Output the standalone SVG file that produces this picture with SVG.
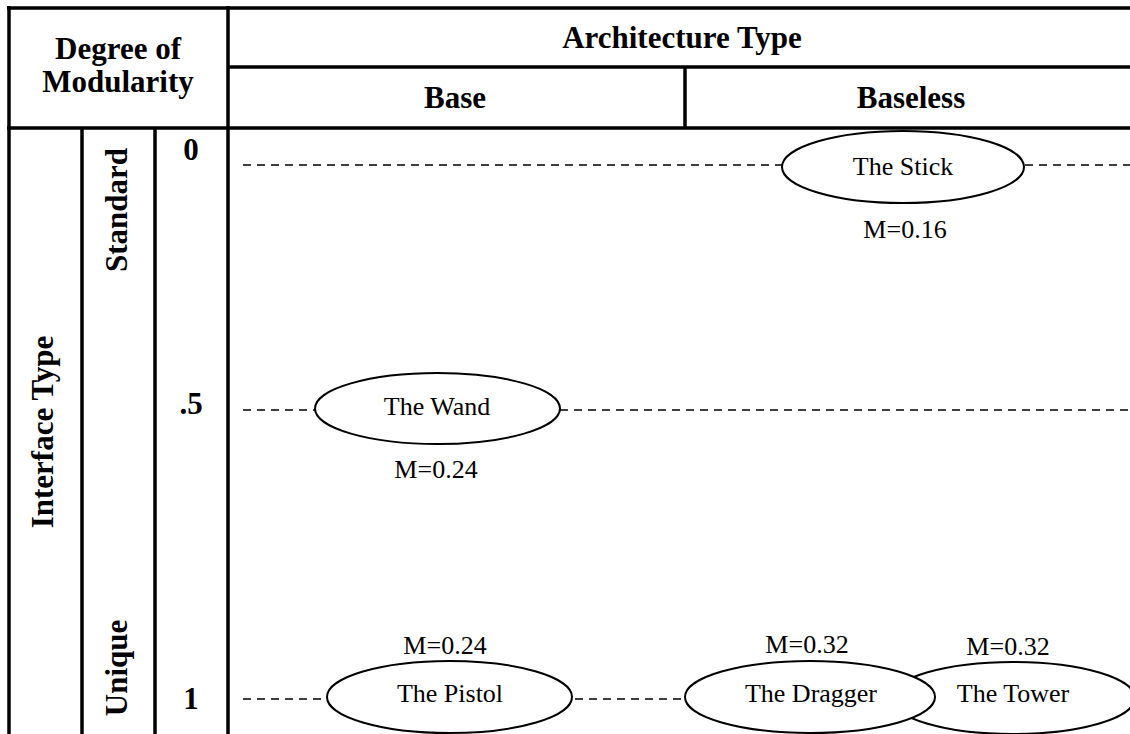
<svg xmlns="http://www.w3.org/2000/svg" width="1130" height="734" viewBox="0 0 1130 734">
  <style>
    .grid { stroke: #000; stroke-width: 3.5; fill: none; }
    .hdr { font-family: "Liberation Serif", "Times New Roman", serif; font-weight: bold; font-size: 31px; fill: #000; text-anchor: middle; }
    .lbl { font-family: "Liberation Serif", "Times New Roman", serif; font-size: 26px; fill: #000; text-anchor: middle; }
    .node { fill: #fff; stroke: #000; stroke-width: 2; }
    .link { stroke: #000; stroke-width: 1.6; stroke-dasharray: 8 6; fill: none; }
  </style>
  <rect width="1130" height="734" fill="#fff"/>

  <!-- table frame -->
  <g id="table" class="grid">
    <line x1="7" y1="8" x2="1130" y2="8"/>
    <line x1="228" y1="67" x2="1130" y2="67"/>
    <line x1="7" y1="128" x2="1130" y2="128"/>
    <line x1="9" y1="6" x2="9" y2="734"/>
    <line x1="228" y1="6" x2="228" y2="734"/>
    <line x1="685" y1="67" x2="685" y2="128"/>
    <line x1="82" y1="128" x2="82" y2="734"/>
    <line x1="155" y1="128" x2="155" y2="734"/>
  </g>

  <!-- header and axis labels -->
  <g id="headers">
    <text class="hdr" x="118" y="59">Degree of</text>
    <text class="hdr" x="118" y="92">Modularity</text>
    <text class="hdr" x="682" y="48">Architecture Type</text>
    <text class="hdr" x="455" y="108">Base</text>
    <text class="hdr" x="911" y="108">Baseless</text>
    <text class="hdr" transform="translate(53,432) rotate(-90)">Interface Type</text>
    <text class="hdr" transform="translate(127,210) rotate(-90)">Standard</text>
    <text class="hdr" transform="translate(127,668) rotate(-90)">Unique</text>
    <text class="hdr" x="191" y="160">0</text>
    <text class="hdr" x="191" y="414">.5</text>
    <text class="hdr" x="191" y="709">1</text>
  </g>

  <!-- dashed level lines -->
  <g id="connectors">
    <line class="link" x1="243" y1="165" x2="782" y2="165"/>
    <line class="link" x1="1025" y1="165" x2="1130" y2="165"/>
    <line class="link" x1="243" y1="410" x2="315" y2="410"/>
    <line class="link" x1="560" y1="410" x2="1130" y2="410"/>
    <line class="link" x1="243" y1="699" x2="327" y2="699"/>
    <line class="link" x1="575" y1="699" x2="685" y2="699"/>
  </g>

  <g id="stick">
    <ellipse class="node" cx="903" cy="167" rx="121" ry="36"/>
    <text class="lbl" x="903" y="175">The Stick</text>
    <text class="lbl" x="905" y="238">M=0.16</text>
  </g>

  <g id="wand">
    <ellipse class="node" cx="437.5" cy="408.5" rx="122.5" ry="35.5"/>
    <text class="lbl" x="437" y="415">The Wand</text>
    <text class="lbl" x="436" y="478">M=0.24</text>
  </g>

  <g id="pistol">
    <ellipse class="node" cx="449.5" cy="697" rx="122.5" ry="36"/>
    <text class="lbl" x="450" y="702">The Pistol</text>
    <text class="lbl" x="445" y="654">M=0.24</text>
  </g>

  <g id="tower">
    <ellipse class="node" cx="1013" cy="698" rx="122" ry="36"/>
    <text class="lbl" x="1013" y="702">The Tower</text>
    <text class="lbl" x="1008" y="655">M=0.32</text>
  </g>

  <g id="dragger">
    <ellipse class="node" cx="810" cy="697" rx="125" ry="36"/>
    <text class="lbl" x="811" y="702">The Dragger</text>
    <text class="lbl" x="807" y="653">M=0.32</text>
  </g>
</svg>
